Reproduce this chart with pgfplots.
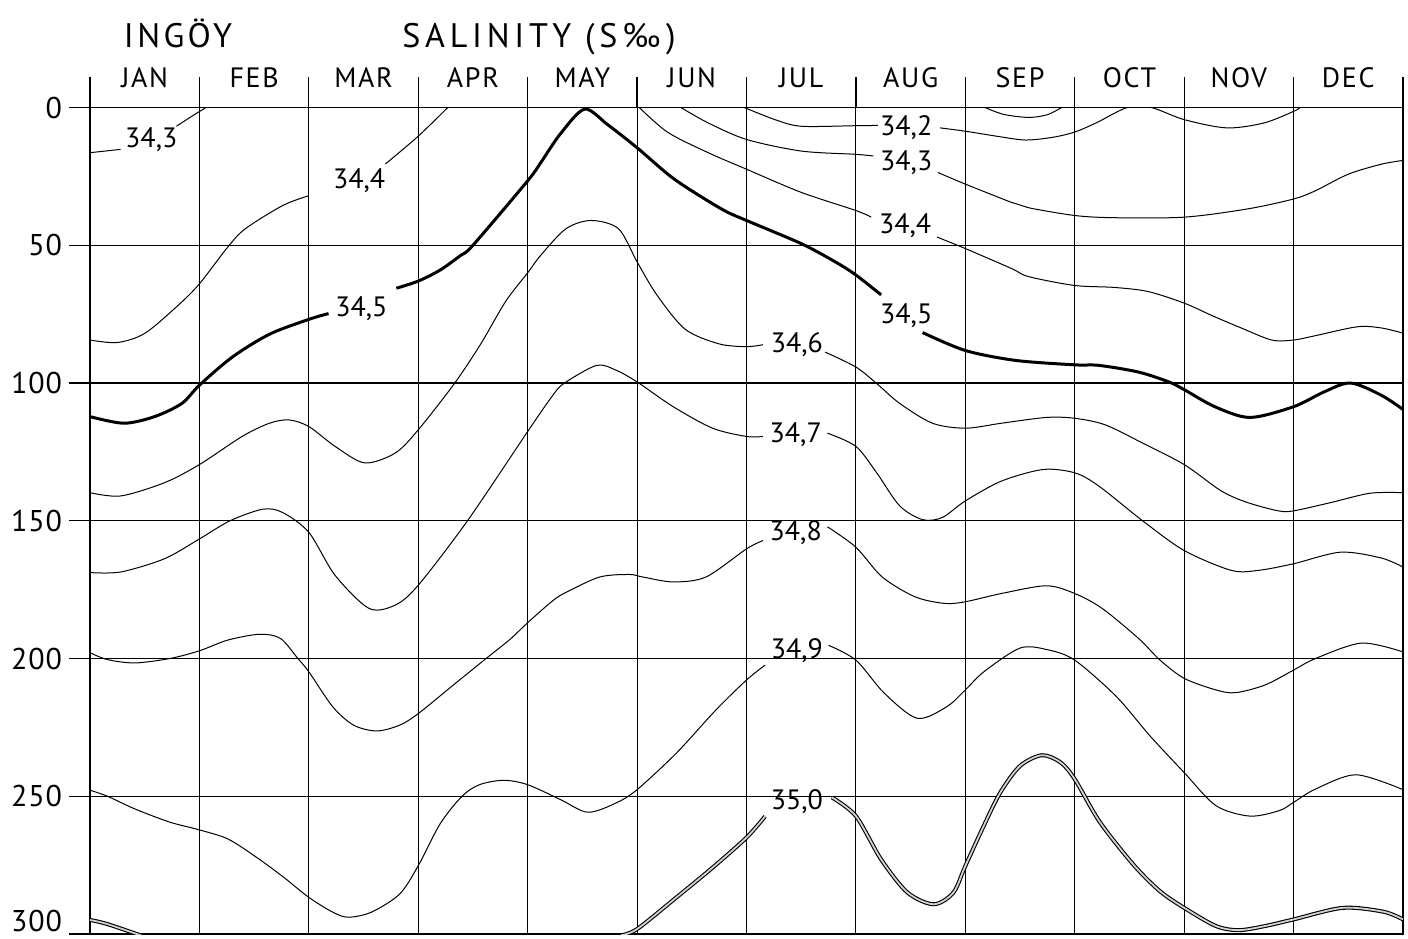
\documentclass[border=0pt]{standalone}
\usepackage{fontspec}
\setmainfont{PT Sans}
\usepackage{pgfplots}
\pgfplotsset{compat=1.18}
\pgfplotsset{
  thinc/.style={black, line width=0.5pt, smooth, no markers},
  thickc/.style={black, line width=1.5pt, smooth, no markers},
  dblc/.style={draw=black, line width=0.55pt, double=gray!35, double distance=0.9pt, smooth, no markers},
}
\tikzset{lab/.style={font=\fontsize{14}{14}\selectfont, inner sep=0pt}}
\begin{document}
\begin{tikzpicture}
\begin{axis}[
  at={(0pt,0pt)}, anchor=south west,
  scale only axis, width=656.5pt, height=413.25pt,
  xmin=0, xmax=12, ymin=0, ymax=300, y dir=reverse,
  xtick={0,...,12}, xticklabels={}, xtick style={draw=none},
  ytick={0,50,...,300}, yticklabels={0,50,100,150,200,250,\raisebox{13pt}{300}},
  ytick pos=left, tick align=outside, major tick length=10.5pt,
  xmajorgrids, ymajorgrids,
  major grid style={black, line width=0.55pt},
  axis line style={line width=0.6pt},
  ytick style={line width=0.55pt, black},
  yticklabel style={font=\fontsize{15}{15}\selectfont\addfontfeature{LetterSpace=3}},
  /pgf/number format/assume math mode=true,
]
% 34.3 left
\addplot[thinc] coordinates {(0,16.4) (0.28,15.2)};
\addplot[thinc] coordinates {(0.79,6.8) (0.93,3.2) (1.06,0)};
\node[lab] at (axis cs:0.56,11.6) {34,3};
% 34.4 left
\addplot[thinc] coordinates {(0,84.4) (0.25,85.3) (0.5,82) (0.8,72) (1,64) (1.26,50.6) (1.42,44) (1.76,35.6) (2,32)};
\addplot[thinc] coordinates {(2.7,20.5) (3,10.4) (3.27,0)};
\node[lab] at (axis cs:2.46,26.6) {34,4};
% 34.5 thick
\addplot[thickc] coordinates {(0,112.2) (0.31,114.6) (0.59,112.2) (0.84,107.4) (1,100.8) (1.3,90.6) (1.64,82.3) (2,76.9) (2.18,74.8)};
\node[lab] at (axis cs:2.48,73) {34,5};
\addplot[thickc] coordinates {(2.8,65.6) (3,63) (3.2,59) (3.39,53.6) (3.5,50) (4,26.6) (4.12,20) (4.3,9.5) (4.52,0.6) (4.73,6.2) (5,14.6) (5.34,26) (5.77,36.8) (6,41) (6.5,49.4) (6.81,56) (7,60.8) (7.23,68)};
\node[lab] at (axis cs:7.46,75.5) {34,5};
\addplot[thickc] coordinates {(7.61,81.7) (8,88.2) (8.46,91.8) (9,93.4) (9.22,93.6) (9.58,96) (9.86,99.6) (10,102.4) (10.28,108.6) (10.6,112.5) (11,108.6) (11.28,103.2) (11.52,100) (11.8,104.4) (12,109.6)};
% 34.2
\addplot[thinc] coordinates {(5.98,0) (6.26,4.4) (6.5,6.8) (7,6.6) (7.2,6.5)};
\node[lab] at (axis cs:7.46,7.4) {34,2};
\addplot[thinc] coordinates {(7.77,7.4) (8,8.6) (8.3,10.5) (8.55,11.8) (8.8,10.8) (9,8.9) (9.2,5.5) (9.48,0) (9.7,0) (10,4.4) (10.39,7.4) (10.73,5.6) (11,1.4) (11.06,0)};
\addplot[thinc] coordinates {(8.18,0) (8.35,2.5) (8.58,3.6) (8.75,2.6) (8.88,0)};
% 34.3 right
\addplot[thinc] coordinates {(5.4,0) (5.65,5.6) (6,11.6) (6.5,15.8) (7,17) (7.16,17.6)};
\node[lab] at (axis cs:7.46,20) {34,3};
\addplot[thinc] coordinates {(7.75,23.6) (8,27.8) (8.42,34.4) (8.58,36.4) (9,39.2) (9.36,40) (10,39.8) (10.58,36.8) (11,33.2) (11.2,30.2) (11.5,24.2) (11.8,20.6) (12,19.2)};
% 34.4 right
\addplot[thinc] coordinates {(5.02,0) (5.28,9) (5.65,16.4) (6,22.4) (6.5,30.8) (7,37.4) (7.14,39.8)};
\node[lab] at (axis cs:7.45,42.8) {34,4};
\addplot[thinc] coordinates {(7.74,47) (8,51.2) (8.42,58.4) (8.58,61.4) (9,64.6) (9.36,65.3) (9.67,66.8) (10,71) (10.27,75.8) (10.52,80) (10.8,84.4) (11,84.4) (11.19,82.9) (11.58,79.6) (11.8,80) (12,81.9)};
% 34.6
\addplot[thinc] coordinates {(0,139.8) (0.28,141) (0.68,136.2) (1,129.6) (1.39,119.4) (1.64,114.6) (1.82,113.4) (2,115.8) (2.24,123) (2.51,129) (2.79,125.4) (3,117) (3.33,100.2) (3.57,85.9) (3.8,70.3) (4,60) (4.12,53.6) (4.35,44) (4.58,41) (4.83,44) (5,56) (5.18,68) (5.44,80.5) (5.75,85.8) (6,86.8) (6.15,86.1)};
\node[lab] at (axis cs:6.46,85.9) {34,6};
\addplot[thinc] coordinates {(6.72,88.8) (7,94.2) (7.19,100.2) (7.4,107.4) (7.7,114.6) (8,116.4) (8.33,114.6) (8.74,112.5) (9,112.8) (9.28,115.2) (9.62,121.8) (10,129.6) (10.34,139.2) (10.58,143.4) (10.86,146.4) (11,146.4) (11.34,143.4) (11.7,140) (12,139.8)};
% 34.7
\addplot[thinc] coordinates {(0,168.8) (0.28,168.6) (0.68,163.8) (1,156.6) (1.28,150) (1.58,145.8) (1.76,147) (2,154.2) (2.24,169.8) (2.55,181.8) (2.79,180.6) (3,173.4) (3.45,150) (4,117.6) (4.22,105) (4.33,100.2) (4.63,93.6) (4.81,95.4) (5,99.6) (5.33,108.6) (5.69,116.4) (6,119.4) (6.15,119.4)};
\node[lab] at (axis cs:6.45,118.8) {34,7};
\addplot[thinc] coordinates {(6.74,118.2) (7,123) (7.19,132.6) (7.4,144.6) (7.61,149.6) (7.79,148.8) (8,142.8) (8.33,135.6) (8.71,131.4) (9,132.6) (9.22,137.4) (9.62,150) (10,160.8) (10.43,168) (10.68,168) (11,165.6) (11.43,161.4) (11.8,163.5) (12,166.8)};
% 34.8
\addplot[thinc] coordinates {(0,197.9) (0.16,200.4) (0.41,201.6) (0.73,200) (1,197.2) (1.26,193.3) (1.55,191.2) (1.74,192.7) (1.9,200) (2,204.8) (2.22,217.6) (2.41,224.2) (2.62,226.3) (2.83,224.2) (3,220) (3.3,210.3) (3.62,200) (3.84,193) (4,187) (4.23,179) (4.36,175.8) (4.66,170.4) (4.93,169.5) (5.05,170.4) (5.33,172.2) (5.63,170.4) (6,160.2) (6.15,157.2)};
\node[lab] at (axis cs:6.45,154.2) {34,8};
\addplot[thinc] coordinates {(6.74,152.2) (7,159.6) (7.24,170.4) (7.54,177.6) (7.81,180) (8,179.4) (8.33,176.4) (8.74,173.6) (9,176.4) (9.25,181.8) (9.58,192.6) (9.78,200.6) (10,207.2) (10.29,211.4) (10.47,212.4) (10.74,209.6) (11,204.2) (11.2,200) (11.62,194.4) (12,197.6)};
% 34.9
\addplot[thinc] coordinates {(0,247.8) (0.16,250) (0.41,254.6) (0.73,259.4) (1,262.2) (1.26,265.5) (1.52,272.1) (1.77,279.4) (2,286.7) (2.22,292.1) (2.36,293.9) (2.57,292.1) (2.83,285.5) (3,275.2) (3.2,260) (3.4,250) (3.56,245.8) (3.78,244.2) (4,245.8) (4.3,251.2) (4.55,255.8) (4.81,252.4) (5,247.6) (5.36,234.3) (5.72,218.7) (6,207.8) (6.17,202.4)};
\node[lab] at (axis cs:6.46,197) {34,9};
\addplot[thinc] coordinates {(6.75,195.2) (7,200.6) (7.26,212.6) (7.56,221.7) (7.83,217.5) (8,211.4) (8.17,204.8) (8.5,196.2) (8.75,196.8) (9,200.6) (9.38,213.8) (9.69,228.2) (10,241.4) (10.29,253.4) (10.6,257.2) (10.87,255.2) (11,252.2) (11.2,247.4) (11.57,242.2) (12,247.6)};
% 35.0
\addplot[dblc] coordinates {(0,294.9) (0.16,296.4) (0.5,301)};
\addplot[dblc] coordinates {(4.85,300.5) (5,298.2) (5.36,286.7) (5.69,275.9) (6,265) (6.17,257.3)};
\node[lab] at (axis cs:6.46,251.8) {35,0};
\addplot[dblc] coordinates {(6.78,250.4) (7,257.2) (7.23,272.9) (7.47,284.9) (7.71,289.2) (7.89,285) (8,275.3) (8.17,260.6) (8.32,248.6) (8.5,239) (8.7,235.1) (8.87,237.7) (9,243.8) (9.23,259.4) (9.54,275) (9.78,284.5) (10,290.5) (10.29,297.1) (10.5,298.6) (10.74,297.1) (11,294.7) (11.45,290.5) (11.82,291.9) (12,294.7)};
\end{axis}
% month separators and names above the axis
\foreach \k in {0,...,12} \draw[line width=0.6pt] ({\k*54.7083pt},413.25pt) -- ++(0,15pt);
\foreach \m [count=\i from 0] in {JAN,FEB,MAR,APR,MAY,JUN,JUL,AUG,SEP,OCT,NOV,DEC}
  \node[anchor=base, inner sep=0pt, font=\fontsize{14}{14}\selectfont\addfontfeature{LetterSpace=6}] at ({(\i+0.5)*54.7083pt},423pt) {\m};
\node[anchor=base, inner sep=0pt, font=\fontsize{17}{17}\selectfont\addfontfeature{LetterSpace=10}] at (44pt,443pt) {INGÖY};
\node[anchor=base west, inner sep=0pt, font=\fontsize{17}{17}\selectfont\addfontfeature{LetterSpace=14}] at (156pt,443pt) {SALINITY (S‰)};
\pgfresetboundingbox
\path[use as bounding box] (-45pt,-2pt) rectangle (659pt,467pt);
\end{tikzpicture}
\end{document}
